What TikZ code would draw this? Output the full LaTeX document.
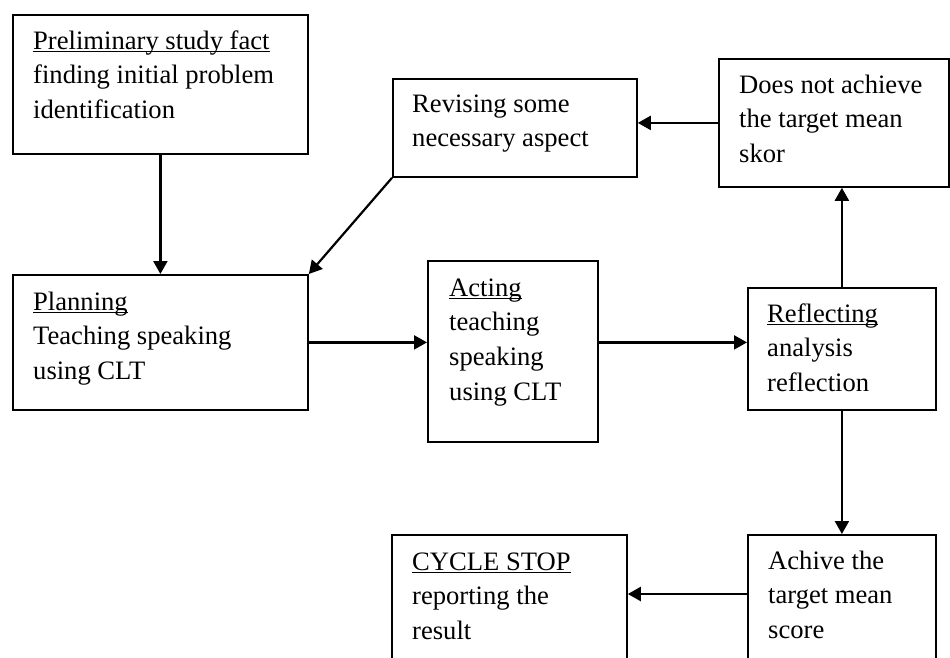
\documentclass[tikz,border=0pt]{standalone}
\usepackage{fontspec}
\setmainfont{Liberation Serif}
\usetikzlibrary{arrows.meta}
\newcommand\ulin[1]{\leavevmode\setbox0\hbox{#1}\rlap{\rule[-2.8pt]{\wd0}{1.3pt}}\box0}
\newcommand\firstline{\rule{0pt}{20pt}}
\begin{document}
\begin{tikzpicture}[x=1pt,y=-1pt,
  box/.style={draw, line width=1.8pt, anchor=north west, inner sep=0pt},
  txt/.style={anchor=north west, inner sep=0pt, align=left, font=\fontsize{26.6pt}{34.6pt}\selectfont},
  arr/.style={line width=2.2pt, -{Triangle[length=13pt,width=14pt]}}]
\useasboundingbox (0,0) rectangle (950,657);
\clip (0,0) rectangle (950,657);
% boxes
\node[box, minimum width=295pt, minimum height=139pt] (b1) at (12,14) {};
\node[box, minimum width=244pt, minimum height=98pt] (rev) at (392,78) {};
\node[box, minimum width=230pt, minimum height=128pt] (dna) at (718,58) {};
\node[box, minimum width=295pt, minimum height=135pt] (plan) at (12,274) {};
\node[box, minimum width=170pt, minimum height=181pt] (act) at (427,260) {};
\node[box, minimum width=188pt, minimum height=122pt] (ref) at (747,287) {};
\node[box, minimum width=235pt, minimum height=150pt] (stop) at (391,534) {};
\node[box, minimum width=188pt, minimum height=150pt] (ach) at (747,534) {};
% texts
\node[txt] (b1t) at ([shift={(21pt,-15pt)}]b1.north west) {\firstline\ulin{Preliminary study fact}\\finding initial problem\\identification};
\node[txt] (revt) at ([shift={(20pt,-14pt)}]rev.north west) {\firstline Revising some\\necessary aspect};
\node[txt] (dnat) at ([shift={(21pt,-15pt)}]dna.north west) {\firstline Does not achieve\\the target mean\\skor};
\node[txt] (plant) at ([shift={(21pt,-16pt)}]plan.north west) {\firstline\ulin{Planning}\\Teaching speaking\\using CLT};
\node[txt] (actt) at ([shift={(22pt,-16pt)}]act.north west) {\firstline\ulin{Acting}\\teaching\\speaking\\using CLT};
\node[txt] (reft) at ([shift={(20pt,-15pt)}]ref.north west) {\firstline\ulin{Reflecting}\\analysis\\reflection};
\node[txt] (stopt) at ([shift={(21pt,-16pt)}]stop.north west) {\firstline\ulin{CYCLE STOP}\\reporting the\\result};
\node[txt] (acht) at ([shift={(21pt,-15pt)}]ach.north west) {\firstline Achive the\\target mean\\score};
% connectors
\draw[arr] (b1.south) -- (plan.north);
\draw[arr] (rev.south west) -- (plan.north east);
\draw[arr] (dna.west) -- (dna.west -| rev.east);
\draw[arr] (plan.east) -- (plan.east -| act.west);
\draw[arr] (plan.east -| act.east) -- (plan.east -| ref.west);
\draw[arr] (ref.north) -- (ref.north |- dna.south);
\draw[arr] (ref.south) -- (ref.south |- ach.north);
\draw[arr] ([yshift=-60pt]ach.north west) -- ([yshift=-60pt]stop.north east);
\end{tikzpicture}
\end{document}
